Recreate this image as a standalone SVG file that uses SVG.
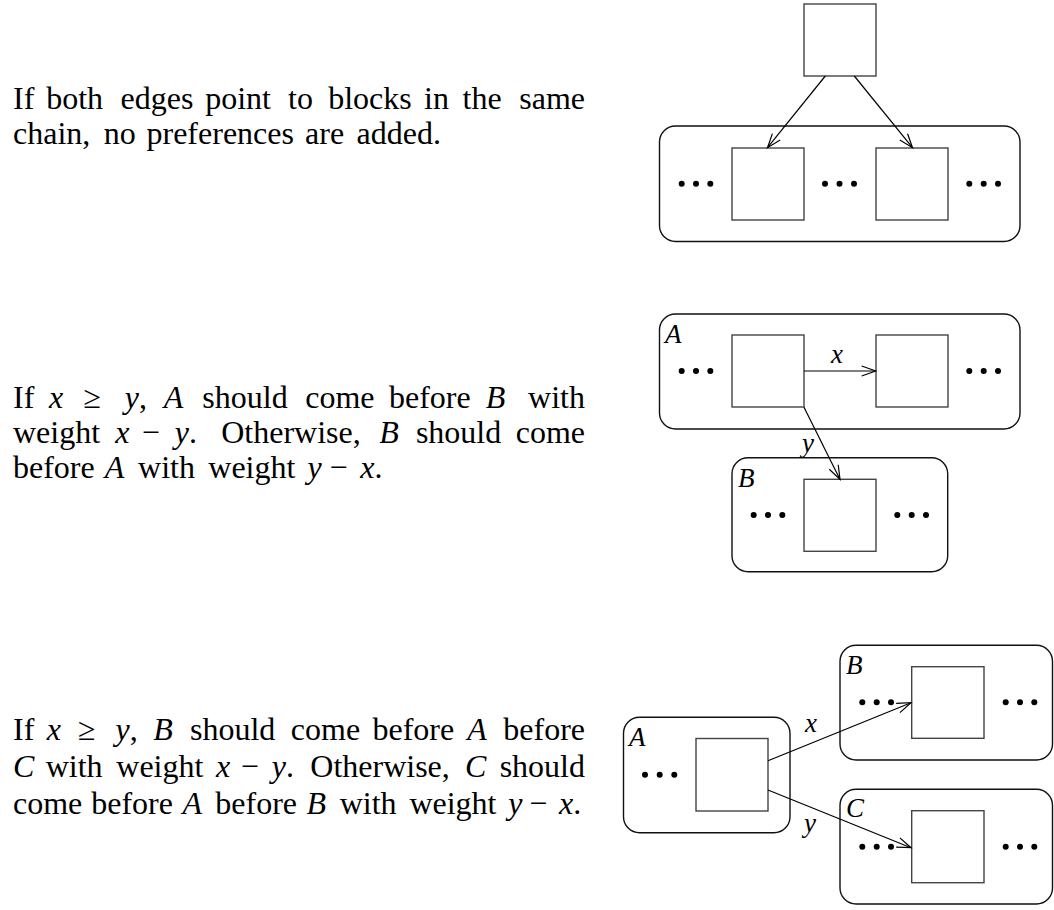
<svg xmlns="http://www.w3.org/2000/svg" width="1054" height="910" viewBox="0 0 1054 910">
<defs>
<style>
.t{font-family:"Liberation Serif","Times New Roman",serif;font-size:32px;fill:#000}
.mi{font-style:italic}
.lbl{font-family:"Liberation Serif","Times New Roman",serif;font-style:italic;font-size:27px;fill:#000}
.box{fill:none;stroke:#444;stroke-width:1.4}
.chain{fill:none;stroke:#111;stroke-width:1.4}
.edge{fill:none;stroke:#000;stroke-width:1.2}
.dot{fill:#000}
.e{text-anchor:end}
</style>
<marker id="arr" markerUnits="userSpaceOnUse" markerWidth="20" markerHeight="14" viewBox="-15 -7 17 14" refX="0" refY="0" orient="auto">
<path d="M-14,-5 L0,0 L-14,5" fill="none" stroke="#000" stroke-width="1.2"/>
</marker>
</defs>
<rect width="1054" height="910" fill="#fff"/>

<!-- Paragraph 1 -->
<g id="para1">
<text class="t" y="109"><tspan x="13">If</tspan><tspan x="46.2">both</tspan><tspan x="120.5">edges</tspan><tspan x="205.2">point</tspan><tspan x="288.1">to</tspan><tspan x="328.2">blocks</tspan><tspan x="424.1">in</tspan><tspan x="462.5">the</tspan><tspan x="585" class="e">same</tspan></text>
<text class="t" y="144"><tspan x="13">chain,</tspan><tspan x="103.7">no</tspan><tspan x="146.5">preferences</tspan><tspan x="305.1">are</tspan><tspan x="356.5">added.</tspan></text>
</g>

<!-- Paragraph 2 -->
<g id="para2">
<text class="t" y="408"><tspan x="13">If</tspan><tspan x="48.9" class="mi">x</tspan><tspan x="83.6">≥</tspan><tspan x="124.7" class="mi">y</tspan><tspan>,</tspan><tspan x="163.8" class="mi">A</tspan><tspan x="202.3">should</tspan><tspan x="305.2">come</tspan><tspan x="389">before</tspan><tspan x="485.8" class="mi">B</tspan><tspan x="585" class="e">with</tspan></text>
<text class="t" y="443"><tspan x="13">weight</tspan><tspan x="115.3" class="mi">x</tspan><tspan x="141.8">−</tspan><tspan x="174.7" class="mi">y</tspan><tspan>.</tspan><tspan x="221.2">Otherwise,</tspan><tspan x="379.2" class="mi">B</tspan><tspan x="415.9">should</tspan><tspan x="585" class="e">come</tspan></text>
<text class="t" y="478"><tspan x="13">before</tspan><tspan x="104.7" class="mi">A</tspan><tspan x="138.1">with</tspan><tspan x="208.3">weight</tspan><tspan x="307.6" class="mi">y</tspan><tspan x="329.5">−</tspan><tspan x="360.3" class="mi">x</tspan><tspan>.</tspan></text>
</g>

<!-- Paragraph 3 -->
<g id="para3">
<text class="t" y="740"><tspan x="13">If</tspan><tspan x="46.8" class="mi">x</tspan><tspan x="78">≥</tspan><tspan x="115.6" class="mi">y</tspan><tspan>,</tspan><tspan x="153.3" class="mi">B</tspan><tspan x="190">should</tspan><tspan x="290.8">come</tspan><tspan x="372.5">before</tspan><tspan x="467.2" class="mi">A</tspan><tspan x="585" class="e">before</tspan></text>
<text class="t" y="777"><tspan x="13" class="mi">C</tspan><tspan x="45.7">with</tspan><tspan x="116.3">weight</tspan><tspan x="216" class="mi">x</tspan><tspan x="240.7">−</tspan><tspan x="271.8" class="mi">y</tspan><tspan>.</tspan><tspan x="310.3">Otherwise,</tspan><tspan x="465" class="mi">C</tspan><tspan x="585" class="e">should</tspan></text>
<text class="t" y="814"><tspan x="13">come</tspan><tspan x="91.2">before</tspan><tspan x="182.4" class="mi">A</tspan><tspan x="215.3">before</tspan><tspan x="306.5" class="mi">B</tspan><tspan x="339.7">with</tspan><tspan x="409.4">weight</tspan><tspan x="508.2" class="mi">y</tspan><tspan x="529.2">−</tspan><tspan x="559.1" class="mi">x</tspan><tspan>.</tspan></text>
</g>

<!-- Figure 1 -->
<g id="fig1-top"><rect class="box" x="804" y="4" width="72" height="72"/></g>
<g id="fig1-chain">
<rect class="chain" x="659.5" y="126" width="360.5" height="115.5" rx="16" ry="16"/>
<circle class="dot" cx="681.7" cy="183.7" r="3"/><circle class="dot" cx="696" cy="183.7" r="3"/><circle class="dot" cx="710.3" cy="183.7" r="3"/>
<circle class="dot" cx="825" cy="183.7" r="3"/><circle class="dot" cx="839.5" cy="183.7" r="3"/><circle class="dot" cx="854" cy="183.7" r="3"/>
<circle class="dot" cx="969.3" cy="183.7" r="3"/><circle class="dot" cx="983.7" cy="183.7" r="3"/><circle class="dot" cx="998" cy="183.7" r="3"/>
</g>
<g id="fig1-b1"><rect class="box" x="732" y="148" width="72" height="72"/></g>
<g id="fig1-b2"><rect class="box" x="876" y="148" width="72" height="72"/></g>

<!-- Figure 2 -->
<g id="fig2-chainA">
<rect class="chain" x="659.5" y="314" width="360.5" height="115" rx="16" ry="16"/>
<text class="lbl" x="665" y="343">A</text>
<circle class="dot" cx="681.7" cy="371" r="3"/><circle class="dot" cx="696" cy="371" r="3"/><circle class="dot" cx="710.3" cy="371" r="3"/>
<circle class="dot" cx="969.3" cy="371" r="3"/><circle class="dot" cx="983.7" cy="371" r="3"/><circle class="dot" cx="998" cy="371" r="3"/>
</g>
<g id="fig2-a1"><rect class="box" x="732" y="335" width="72" height="72"/></g>
<g id="fig2-a2"><rect class="box" x="876" y="335" width="72" height="72"/></g>
<g id="fig2-chainB">
<rect class="chain" x="732" y="457.7" width="215.7" height="114" rx="16" ry="16"/>
<text class="lbl" x="738" y="487">B</text>
<circle class="dot" cx="753.7" cy="515" r="3"/><circle class="dot" cx="768" cy="515" r="3"/><circle class="dot" cx="782.3" cy="515" r="3"/>
<circle class="dot" cx="897.3" cy="515" r="3"/><circle class="dot" cx="911.7" cy="515" r="3"/><circle class="dot" cx="926" cy="515" r="3"/>
</g>
<g id="fig2-b1"><rect class="box" x="804" y="479.3" width="72" height="72"/></g>

<!-- Figure 3 -->
<g id="fig3-chainA">
<rect class="chain" x="623.5" y="717.3" width="166.5" height="115.4" rx="16" ry="16"/>
<text class="lbl" x="629" y="746">A</text>
<circle class="dot" cx="645" cy="774.7" r="3"/><circle class="dot" cx="659.7" cy="774.7" r="3"/><circle class="dot" cx="674.3" cy="774.7" r="3"/>
</g>
<g id="fig3-a1"><rect class="box" x="696" y="738.5" width="72" height="72.5"/></g>
<g id="fig3-chainB">
<rect class="chain" x="840" y="645.3" width="212.5" height="114.7" rx="16" ry="16"/>
<text class="lbl" x="846" y="674">B</text>
<circle class="dot" cx="862.3" cy="702.3" r="3"/><circle class="dot" cx="876.7" cy="702.3" r="3"/><circle class="dot" cx="891" cy="702.3" r="3"/>
<circle class="dot" cx="1005.7" cy="702.3" r="3"/><circle class="dot" cx="1020" cy="702.3" r="3"/><circle class="dot" cx="1034.3" cy="702.3" r="3"/>
</g>
<g id="fig3-b1"><rect class="box" x="911.7" y="666.7" width="72.3" height="71.6"/></g>
<g id="fig3-chainC">
<rect class="chain" x="840" y="789.3" width="212.5" height="114.7" rx="16" ry="16"/>
<text class="lbl" x="846" y="817">C</text>
<circle class="dot" cx="862.3" cy="846.7" r="3"/><circle class="dot" cx="876.7" cy="846.7" r="3"/><circle class="dot" cx="891" cy="846.7" r="3"/>
<circle class="dot" cx="1005.7" cy="846.7" r="3"/><circle class="dot" cx="1020" cy="846.7" r="3"/><circle class="dot" cx="1034.3" cy="846.7" r="3"/>
</g>
<g id="fig3-c1"><rect class="box" x="911.7" y="810.7" width="72.3" height="72"/></g>

<!-- Connectors -->
<g id="connectors">
<line class="edge" x1="825.3" y1="76" x2="767.5" y2="147.7" marker-end="url(#arr)"/>
<line class="edge" x1="854.3" y1="76" x2="912.5" y2="147.7" marker-end="url(#arr)"/>
<line class="edge" x1="804" y1="371" x2="875.7" y2="371" marker-end="url(#arr)"/>
<text class="lbl" x="831" y="363">x</text>
<line class="edge" x1="804" y1="407.3" x2="840" y2="479.5" marker-end="url(#arr)"/>
<text class="lbl" x="802" y="452">y</text>
<line class="edge" x1="768" y1="760.7" x2="911" y2="702.7" marker-end="url(#arr)"/>
<text class="lbl" x="805" y="732">x</text>
<line class="edge" x1="768" y1="790" x2="911" y2="847.7" marker-end="url(#arr)"/>
<text class="lbl" x="804" y="832">y</text>
</g>
</svg>
